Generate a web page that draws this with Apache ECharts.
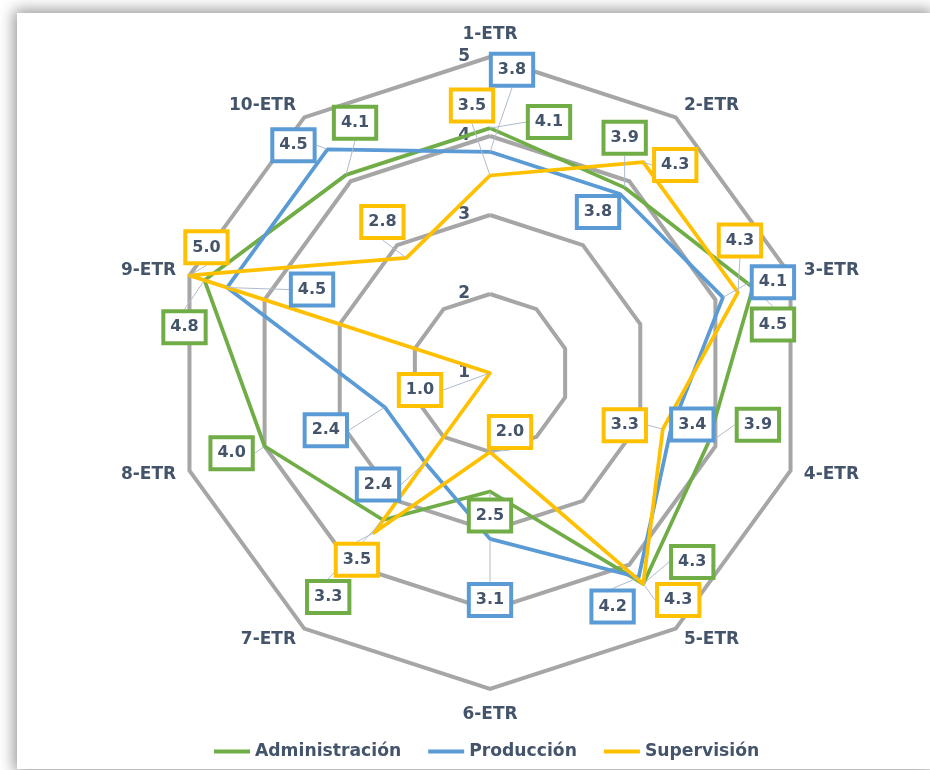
<!DOCTYPE html>
<html><head><meta charset="utf-8">
<script src="https://cdn.jsdelivr.net/npm/echarts@6/dist/echarts.min.js"></script>
<style>
html,body{margin:0;padding:0;background:#fff;overflow:hidden;}
#frame{position:absolute;left:17px;top:13px;width:913px;height:756px;background:#fff;box-shadow:0 0 14px 3px rgba(0,0,0,0.42);}
#main{position:absolute;left:0;top:0;width:930px;height:770px;}
</style></head><body>
<div id="frame"></div><div id="main"></div>
<script>
// ---- data ----
const categories = ['1-ETR','2-ETR','3-ETR','4-ETR','5-ETR','6-ETR','7-ETR','8-ETR','9-ETR','10-ETR'];
const administracion = [4.1, 3.9, 4.5, 3.9, 4.3, 2.5, 3.3, 4.0, 4.8, 4.1];
const produccion     = [3.8, 3.8, 4.1, 3.4, 4.2, 3.1, 2.4, 2.4, 4.5, 4.5];
const supervision    = [3.5, 4.3, 4.3, 3.3, 4.3, 2.0, 3.5, 1.0, 5.0, 2.8];
const seriesNames = ['Administración', 'Producción', 'Supervisión'];
const radialTicks = [1, 2, 3, 4, 5];

// ---- style / layout config ----
const colors = ['#70ad47', '#5b9bd5', '#ffc000'];
const textColor = '#44546a';
const font = 'DejaVu Sans';
const CX = 490, CY = 373, R = 316;
// label displacement (px) relative to each point, per series, in category order
const labelShift = [
  [[59,-6],[0,-50],[20,37],[50,-19],[49,-22],[0,24],[-55,77],[-33,7],[-20,47],[9,-52]],
  [[22,-82],[-22,18],[50,-15],[22,-7],[-26,29],[0,61],[-47,22],[-59,23],[85,2],[-34,-4]],
  [[-18,-70],[32,3],[2,-52],[-38,-4],[35,16],[20,-20],[-17,27],[-70,17],[17,-28],[-24,-36]]
];

const allValues = [administracion, produccion, supervision];
// ECharts radar places indicators counter-clockwise; reorder so they run clockwise
const order = categories.map((c, i) => (categories.length - i) % categories.length);

const chart = echarts.init(document.getElementById('main'), null, {renderer: 'canvas'});

const radarSeries = allValues.map((vals, s) => ({
  type: 'radar',
  name: seriesNames[s],
  radarIndex: 0,
  symbol: 'none',
  z: 3,
  lineStyle: {color: colors[s], width: 3.75},
  itemStyle: {color: colors[s]},
  data: [{name: seriesNames[s], value: order.map(i => vals[i])}]
}));

const labelSeries = allValues.map((vals, s) => ({
  type: 'scatter',
  name: 'lbl' + s,
  coordinateSystem: 'polar',
  polarIndex: 0,
  symbol: 'circle',
  symbolSize: 1,
  z: 6,
  silent: true,
  itemStyle: {color: 'rgba(0,0,0,0)', opacity: 1},
  data: vals.map((v, i) => [v, i]),
  label: {
    show: true,
    position: 'inside',
    formatter: p => p.value[0].toFixed(1),
    color: textColor,
    opacity: 1,
    fontFamily: font,
    fontWeight: 'bold',
    fontSize: 16,
    lineHeight: 18,
    backgroundColor: '#fff',
    borderColor: colors[s],
    borderWidth: 4,
    padding: [5, 5, 5, 5]
  },
  labelLine: {show: true, lineStyle: {color: '#aebbcc', width: 1, opacity: 1}},
  labelLayout: function (p) {
    const d = labelShift[s][p.dataIndex];
    return {
      x: p.rect.x + p.rect.width / 2 + d[0],
      y: p.rect.y + p.rect.height / 2 + d[1],
      align: 'center',
      verticalAlign: 'middle'
    };
  }
}));

chart.setOption({
  animation: false,
  backgroundColor: 'transparent',
  radar: {
    center: [CX, CY],
    radius: R,
    startAngle: 90,
    shape: 'polygon',
    splitNumber: radialTicks.length - 1,
    indicator: order.map(i => ({name: categories[i], min: radialTicks[0], max: radialTicks[radialTicks.length - 1]})),
    nameGap: 14,
    axisName: {color: textColor, fontFamily: font, fontWeight: 'bold', fontSize: 17, padding: [3, 0, 0, 0]},
    axisLine: {show: false},
    axisTick: {show: false},
    axisLabel: {show: false},
    splitArea: {show: false},
    splitLine: {lineStyle: {color: '#a6a6a6', width: 4}}
  },
  polar: {center: [CX, CY], radius: R},
  angleAxis: {
    type: 'value', min: 0, max: categories.length, startAngle: 90, clockwise: true,
    axisLine: {show: false}, axisTick: {show: false}, axisLabel: {show: false}, splitLine: {show: false}
  },
  radiusAxis: {
    type: 'value', min: radialTicks[0], max: radialTicks[radialTicks.length - 1], interval: 1,
    axisLine: {show: false}, axisTick: {show: false}, splitLine: {show: false},
    axisLabel: {show: true, color: textColor, fontFamily: font, fontWeight: 'bold', fontSize: 17, margin: 20, padding: [6, 0, 0, 0]}
  },
  legend: {
    data: seriesNames,
    bottom: 5,
    left: 209,
    icon: 'rect',
    itemWidth: 36,
    itemHeight: 4,
    itemGap: 27,
    textStyle: {color: textColor, fontFamily: font, fontWeight: 'bold', fontSize: 17.2}
  },
  series: radarSeries.concat(labelSeries)
});
</script>
</body></html>
